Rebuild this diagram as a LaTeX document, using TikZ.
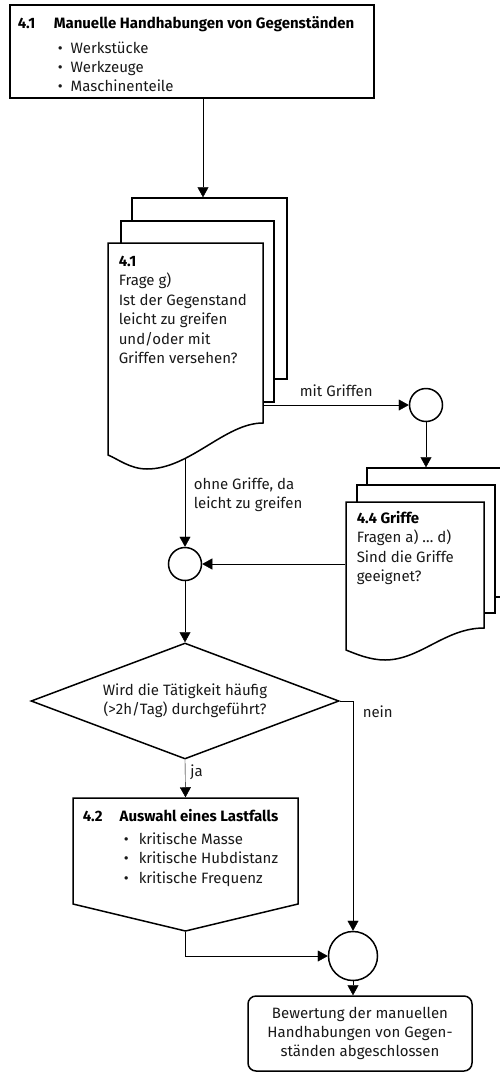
\documentclass[tikz,border=0pt]{standalone}
\usepackage{fontspec}
\setmainfont{Fira Sans}
\usetikzlibrary{shapes.geometric,arrows.meta,backgrounds}
\begin{document}
\begin{tikzpicture}[x=1pt,y=-1pt,line width=1.5pt,
  arr/.style={-{Triangle[length=10pt,width=11pt]}},
  page/.style={draw,fill=white,inner sep=0pt},
  joint/.style={circle,draw,fill=white,inner sep=0pt},
  txt/.style={font=\fontsize{15}{19.5}\selectfont,inner sep=0pt,anchor=base west,align=left,text=black!90},
  ctxt/.style={font=\fontsize{15}{19}\selectfont,align=center,text=black!90},
  bld/.style={font=\fontsize{15}{19.5}\selectfont\bfseries,inner sep=0pt,anchor=base west,text=black}]
\useasboundingbox (0,0) rectangle (500,1073);

% top box
\node[page,minimum width=364pt,minimum height=93pt] (top) at (192,51.5) {};
\node[bld] (toptitle) at (17,29) {\makebox[36pt][l]{4.1}Manuelle Handhabungen von Gegenständen};
\node[txt] (toplist) at (57,92) {\makebox[13pt][l]{•}Werkstücke\\\makebox[13pt][l]{•}Werkzeuge\\\makebox[13pt][l]{•}Maschinenteile};

% document stack 1
\node[page,minimum width=155pt,minimum height=181pt] (d1c) at (209.5,288.5) {};
\node[page,minimum width=153pt,minimum height=181pt] (d1b) at (197.5,311.5) {};
\filldraw[fill=white] (108,243) -- (263,243) -- (263,423)
  .. controls (225,423) and (190,469) .. (147,469)
  .. controls (130,469) and (118,459) .. (108,455) -- cycle;
\node[inner sep=0pt,minimum width=155pt,minimum height=226pt] (d1) at (185.5,356) {};
\node[txt] (d1text) at (118,363.5) {\textbf{\color{black}4.1}\\Frage g)\\Ist der Gegenstand\\leicht zu greifen\\und/oder mit\\Griffen versehen?};

% document stack 2
\node[page,minimum width=153pt,minimum height=129pt] (d2c) at (443.5,532.5) {};
\node[page,minimum width=138pt,minimum height=128pt] (d2b) at (426,549) {};
\filldraw[fill=white] (346,502) -- (484,502) -- (484,628)
  .. controls (445,628) and (420,660) .. (385,660)
  .. controls (370,660) and (356,654) .. (346,650) -- cycle;
\node[inner sep=0pt,minimum width=138pt,minimum height=158pt] (d2) at (415,581) {};
\node[txt] (d2text) at (356,581.5) {\textbf{\color{black}4.4 Griffe}\\Fragen a) … d)\\Sind die Griffe\\geeignet?};

% joints
\node[joint,minimum size=33pt] (c2) at (426,405) {};
\node[joint,minimum size=33pt] (c3) at (185,564) {};
\node[joint,minimum size=49pt] (c4) at (353,956) {};

% decision
\node[diamond,draw,fill=white,aspect=2.6,minimum width=308pt,minimum height=116pt,inner sep=0pt,ctxt] (dia) at (185,701) {Wird die Tätigkeit häufig\\(>2h/Tag) durchgeführt?};

% box 4.2
\filldraw[fill=white] (73,798) -- (298,798) -- (298,904) -- (185.5,931) -- (73,904) -- cycle;
\node[inner sep=0pt,minimum width=225pt,minimum height=133pt] (box42) at (185.5,864.5) {};
\node[bld] (b42title) at (82,821) {\makebox[37pt][l]{4.2}Auswahl eines Lastfalls};
\node[txt] (b42list) at (123,883) {\makebox[15pt][l]{•}kritische Masse\\\makebox[15pt][l]{•}kritische Hubdistanz\\\makebox[15pt][l]{•}kritische Frequenz};

% final
\node[draw,fill=white,rounded corners=8pt,minimum width=224pt,minimum height=75pt,inner sep=0pt,ctxt] (final) at (360,1033.5) {Bewertung der manuellen\\Handhabungen von Gegen-\\ständen abgeschlossen};

% connectors
\begin{scope}[on background layer]
\draw[arr] ([xshift=11pt]top.south) -- ([xshift=11pt]top.south |- d1c.north);
\draw[arr] (c2 -| d1.east) -- (c2) node[midway,anchor=base,yshift=9pt,inner sep=0pt,font=\fontsize{15}{19.5}\selectfont,text=black!90] (lmit) {mit Griffen};
\draw[arr] (c2) -- (c2 |- d2c.north);
\draw[arr] (c3 -| d2.west) -- (c3);
\draw[arr] (c3 |- d1.center) -- (c3);
\draw[arr] (c3) -- (dia.north);
\draw[arr] (dia.south) -- (box42.north) node[pos=0.45,anchor=base west,xshift=5pt,inner sep=0pt,font=\fontsize{15}{19.5}\selectfont,text=black!90] (lja) {ja};
\draw[arr] (dia.east) -| (c4.north);
\draw[arr] (box42.south) |- (c4.west);
\draw[arr] (c4.south) -- (c4.south |- final.north);
\end{scope}
\node[txt] (lohne) at (193,508.5) {ohne Griffe, da\\leicht zu greifen};
\node[txt] (lnein) at (362,717) {nein};
\end{tikzpicture}
\end{document}
